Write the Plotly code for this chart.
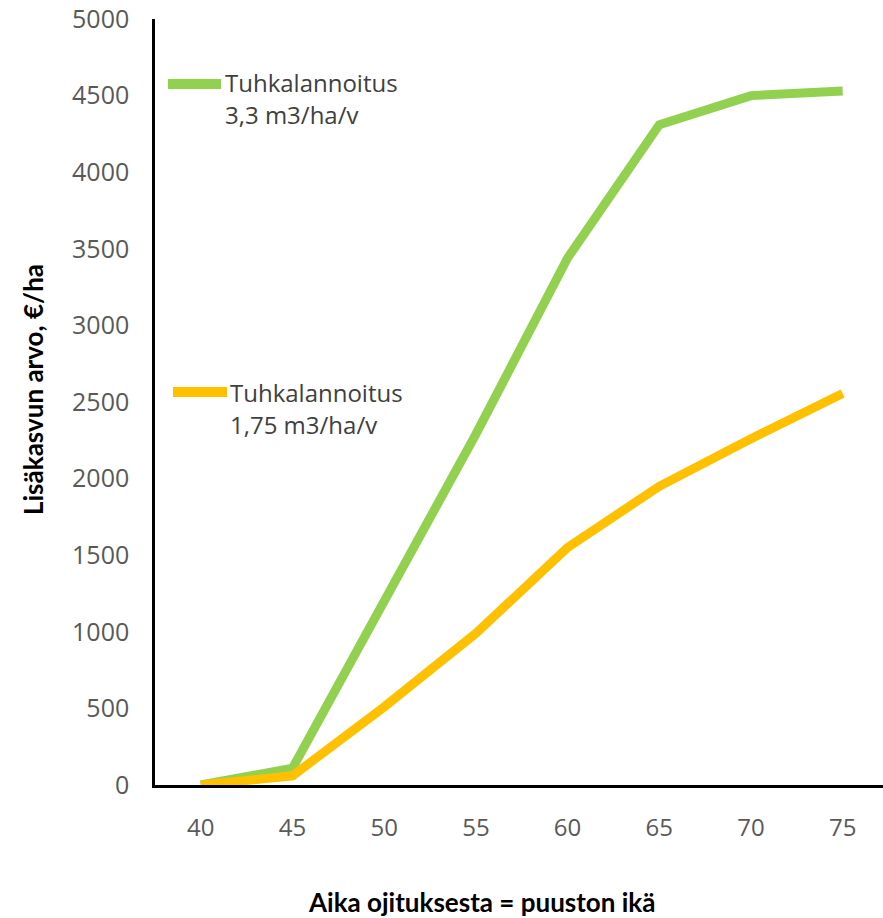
import plotly.graph_objects as go

ages = ["40", "45", "50", "55", "60", "65", "70", "75"]
ash_33 = [0, 110, 1200, 2290, 3440, 4310, 4500, 4530]
ash_175 = [0, 60, 510, 990, 1550, 1950, 2260, 2555]
name_33 = ["Tuhkalannoitus", "3,3 m3/ha/v"]
name_175 = ["Tuhkalannoitus", "1,75 m3/ha/v"]
y_ticks = [0, 500, 1000, 1500, 2000, 2500, 3000, 3500, 4000, 4500, 5000]
x_title = "Aika ojituksesta = puuston ikä"
y_title = "Lisäkasvun arvo, €/ha"

GREEN = "#92D050"
ORANGE = "#FFC000"

W, H = 883, 918
L, R, T, B = 155, 0, 19, 133
PW, PH = W - L - R, H - T - B


def px(x):
    return (x - L) / PW


def py(y):
    return (H - B - y) / PH


fig = go.Figure()
fig.add_trace(go.Scatter(x=ages, y=ash_33, mode="lines", name=" ".join(name_33),
                         line=dict(color=GREEN, width=9), showlegend=False))
fig.add_trace(go.Scatter(x=ages, y=ash_175, mode="lines", name=" ".join(name_175),
                         line=dict(color=ORANGE, width=9), showlegend=False))

font_main = "Open Sans, sans-serif"
font_title = "Lato, sans-serif"
legend_font = dict(family=font_main, size=24, color="#404040")
title_font = dict(family=font_title, size=26, color="black", weight="bold")

shapes = [
    dict(type="line", xref="paper", yref="paper", x0=px(168), x1=px(221), y0=py(84), y1=py(84),
         line=dict(color=GREEN, width=10)),
    dict(type="line", xref="paper", yref="paper", x0=px(173), x1=px(227), y0=py(392), y1=py(392),
         line=dict(color=ORANGE, width=10)),
]

annotations = [
    dict(xref="paper", yref="paper", x=px(223), y=py(82), text=name_33[0], showarrow=False,
         xanchor="left", yanchor="middle", font=legend_font),
    dict(xref="paper", yref="paper", x=px(223), y=py(115), text=name_33[1], showarrow=False,
         xanchor="left", yanchor="middle", font=legend_font),
    dict(xref="paper", yref="paper", x=px(228), y=py(392), text=name_175[0], showarrow=False,
         xanchor="left", yanchor="middle", font=legend_font),
    dict(xref="paper", yref="paper", x=px(228), y=py(424), text=name_175[1], showarrow=False,
         xanchor="left", yanchor="middle", font=legend_font),
    dict(xref="paper", yref="paper", x=px(481), y=py(902), text=x_title, showarrow=False,
         xanchor="center", yanchor="middle", font=title_font),
    dict(xref="paper", yref="paper", x=px(33), y=py(390), text=y_title, showarrow=False,
         xanchor="center", yanchor="middle", textangle=-90, font=title_font),
]

fig.update_layout(
    width=W, height=H,
    margin=dict(l=L, r=R, t=T, b=B, pad=0, autoexpand=False),
    paper_bgcolor="white", plot_bgcolor="white",
    shapes=shapes, annotations=annotations,
    showlegend=False,
)
fig.update_xaxes(
    type="category", range=[-0.5, 7.44],
    showline=True, linecolor="black", linewidth=2.5, mirror=False,
    showgrid=False, zeroline=False, ticks="",
    tickfont=dict(family=font_main, size=24, color="#595959"),
    ticklabelstandoff=19, automargin=False,
)
fig.update_yaxes(
    range=[0, 5000], tickvals=y_ticks,
    showline=True, linecolor="black", linewidth=2.5,
    showgrid=False, zeroline=False, ticks="",
    tickfont=dict(family=font_main, size=25, color="#595959"),
    ticklabelstandoff=18, automargin=False,
)

fig.write_html("out.html", config={"displayModeBar": False},
               post_script="document.body.style.margin='0';document.body.style.overflow='hidden';")
